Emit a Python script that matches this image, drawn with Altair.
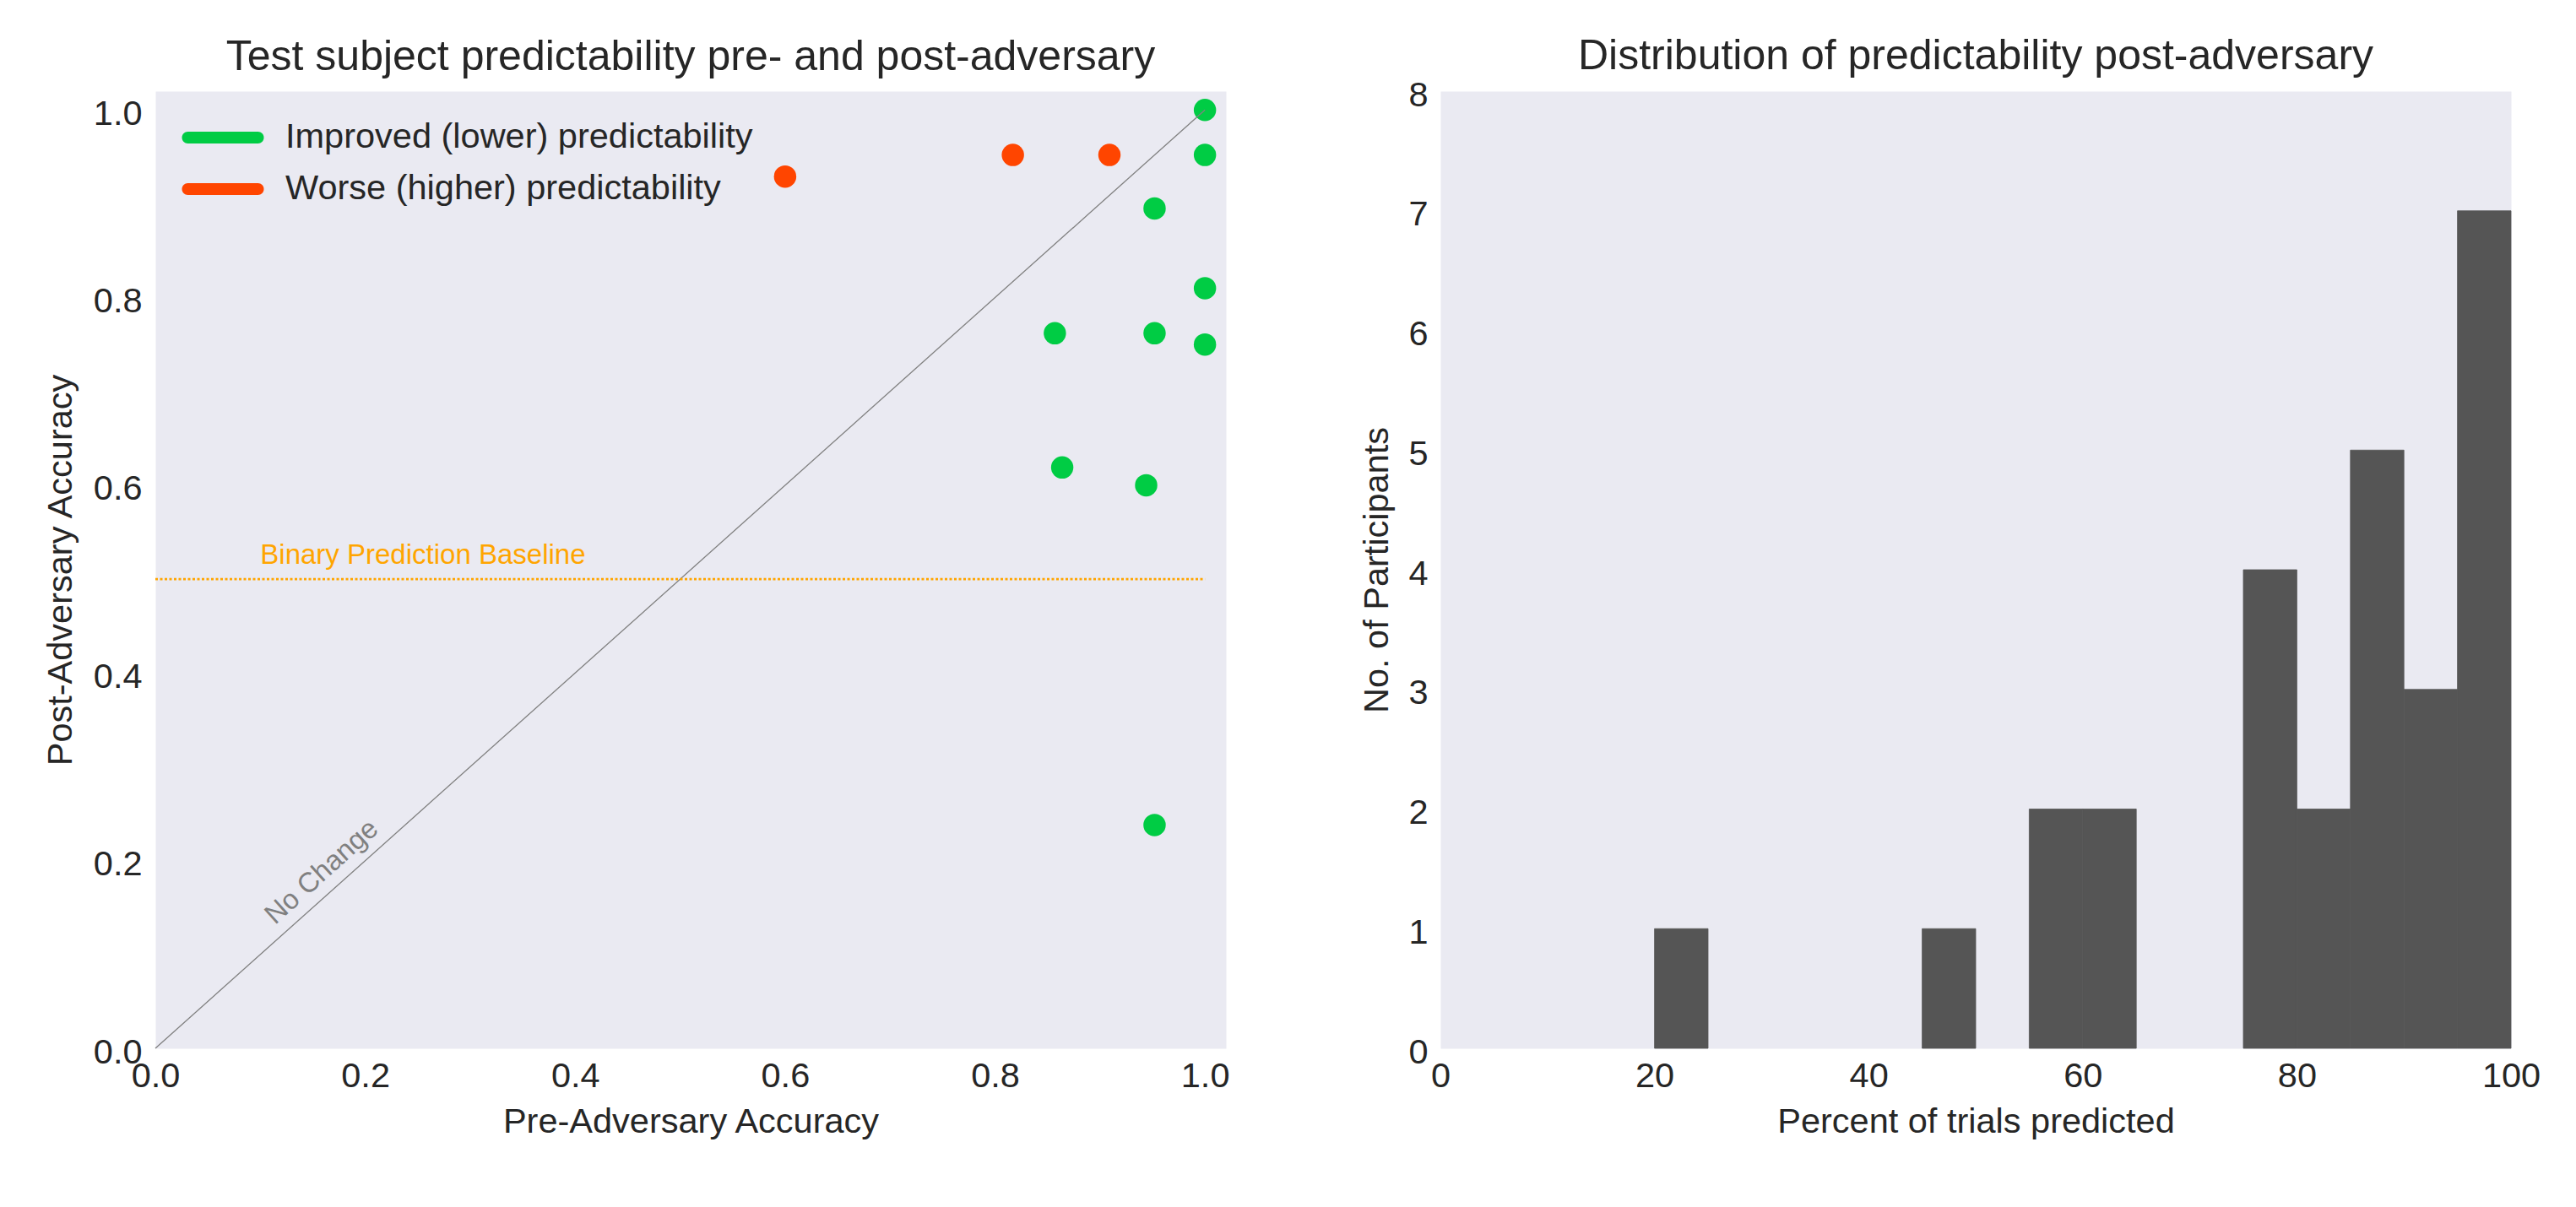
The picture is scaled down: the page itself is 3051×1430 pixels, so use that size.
import altair as alt
import pandas as pd

# ---------------- data ----------------
pre_acc = [0.600, 0.817, 0.909, 1.000, 1.000, 0.952, 1.000, 0.857, 0.952, 1.000, 0.864, 0.944, 0.952]
post_acc = [0.929, 0.952, 0.952, 1.000, 0.952, 0.895, 0.810, 0.762, 0.762, 0.750, 0.619, 0.600, 0.238]
groups = ["Worse (higher) predictability"] * 3 + ["Improved (lower) predictability"] * 10

group_names = ["Improved (lower) predictability", "Worse (higher) predictability"]
group_colors = ["#00CC44", "#FF4500"]

diag_x = [0.0, 1.0]
diag_y = [0.0, 1.0]

baseline_y = [0.5]
baseline_x0 = [0.0]
baseline_x1 = [1.0]

bin_lo = [20, 45, 55, 60, 75, 80, 85, 90, 95]
bin_hi = [25, 50, 60, 65, 80, 85, 90, 95, 100]
counts = [1, 1, 2, 2, 4, 2, 5, 3, 7]

left_ticks = [0.0, 0.2, 0.4, 0.6, 0.8, 1.0]
right_x_ticks = [0, 20, 40, 60, 80, 100]
right_y_ticks = [0, 1, 2, 3, 4, 5, 6, 7, 8]

FONT = "Liberation Sans"
TXT = "#262626"
W, H = 1268, 1134

# legend symbol: a thick line with rounded ends (symbol space scaled by sqrt(size)/2)
LINE_SYMBOL = ("M -1.0641 -0.1795 L 1.0641 -0.1795 A 0.1795 0.1795 0 0 1 1.0641 0.1795 "
               "L -1.0641 0.1795 A 0.1795 0.1795 0 0 1 -1.0641 -0.1795 Z")

scatter_df = pd.DataFrame({"pre": pre_acc, "post": post_acc, "group": groups})
diag_df = pd.DataFrame({"x": diag_x, "y": diag_y})
base_df = pd.DataFrame({"x0": baseline_x0, "x1": baseline_x1, "y": baseline_y})
base_label_df = pd.DataFrame({"x": [0.1], "y": [0.516], "label": ["Binary Prediction Baseline"]})
nochange_df = pd.DataFrame({"x": [0.114], "y": [0.131], "label": ["No Change"]})
hist_df = pd.DataFrame({"lo": bin_lo, "hi": bin_hi, "count": counts})

xs = alt.Scale(domain=[0, 1.02], nice=False, zero=False)
ys = alt.Scale(domain=[0, 1.02], nice=False, zero=False)

x_axis_left = alt.Axis(title="Pre-Adversary Accuracy", values=left_ticks, format=".1f",
                       labelFlush=False, labelPadding=12, titleY=99, titleBaseline="alphabetic")
y_axis_left = alt.Axis(title="Post-Adversary Accuracy", values=left_ticks, format=".1f",
                       labelPadding=16, labelOffset=5, titleX=-100, titleBaseline="alphabetic")

points = alt.Chart(scatter_df).mark_circle(size=700, opacity=1).encode(
    x=alt.X("pre:Q", scale=xs, axis=x_axis_left),
    y=alt.Y("post:Q", scale=ys, axis=y_axis_left),
    color=alt.Color("group:N", scale=alt.Scale(domain=group_names, range=group_colors),
                    legend=alt.Legend(title=None, orient="top-left", offset=0, padding=16,
                                      symbolType=LINE_SYMBOL, symbolSize=6084,
                                      symbolStrokeWidth=0, symbolOpacity=1,
                                      symbolOffset=25, labelOffset=35,
                                      labelFontSize=41.5, labelFont=FONT, labelColor=TXT,
                                      rowPadding=1, labelLimit=0)),
)

diag = alt.Chart(diag_df).mark_line(color="#808080", strokeWidth=1.3).encode(
    x=alt.X("x:Q", scale=xs), y=alt.Y("y:Q", scale=ys)
)

base_rule = alt.Chart(base_df).mark_rule(color="#FFA500", strokeWidth=2.6, strokeDash=[3, 2.5]).encode(
    x=alt.X("x0:Q", scale=xs), x2="x1:Q", y=alt.Y("y:Q", scale=ys)
)

base_text = alt.Chart(base_label_df).mark_text(
    color="#FFA500", fontSize=33, font=FONT, align="left", baseline="alphabetic"
).encode(x=alt.X("x:Q", scale=xs), y=alt.Y("y:Q", scale=ys), text="label:N")

nochange_text = alt.Chart(nochange_df).mark_text(
    color="#808080", fontSize=33, font=FONT, align="left", baseline="alphabetic", angle=318
).encode(x=alt.X("x:Q", scale=xs), y=alt.Y("y:Q", scale=ys), text="label:N")

left = alt.layer(points, diag, base_rule, base_text, nochange_text).properties(
    width=W, height=H,
    title=alt.TitleParams("Test subject predictability pre- and post-adversary", fontSize=50,
                          font=FONT, fontWeight="normal", color=TXT, offset=22, dy=47,
                          baseline="alphabetic", anchor="middle"),
)

right = alt.Chart(hist_df).mark_bar(color="#555555", stroke="#555555", strokeWidth=0.8, opacity=1).encode(
    x=alt.X("lo:Q", scale=alt.Scale(domain=[0, 100], nice=False, zero=False),
            axis=alt.Axis(title="Percent of trials predicted", values=right_x_ticks, format="d",
                          labelFlush=False, labelPadding=12, titleY=99, titleBaseline="alphabetic")),
    x2="hi:Q",
    y=alt.Y("count:Q", scale=alt.Scale(domain=[0, 8], nice=False),
            axis=alt.Axis(title="No. of Participants", values=right_y_ticks, format="d",
                          labelPadding=15, labelOffset=5, titleX=-63, titleBaseline="alphabetic")),
    y2=alt.datum(0),
).properties(
    width=W, height=H,
    title=alt.TitleParams("Distribution of predictability post-adversary", fontSize=50,
                          font=FONT, fontWeight="normal", color=TXT, offset=22, dy=62,
                          baseline="alphabetic", anchor="middle"),
)

chart = alt.hconcat(left, right, spacing=254, bounds="flush").properties(
    padding={"left": 42, "top": 33, "right": 20, "bottom": 20},
    background="white",
).configure_view(
    fill="#EAEAF2", stroke="transparent"
).configure_axis(
    domain=False, ticks=False, tickSize=0, grid=False,
    labelFontSize=41.5, titleFontSize=41.5, labelFont=FONT, titleFont=FONT,
    labelColor=TXT, titleColor=TXT, titleFontWeight="normal",
)

chart.save("out.html", embed_options={"renderer": "svg", "actions": False})
